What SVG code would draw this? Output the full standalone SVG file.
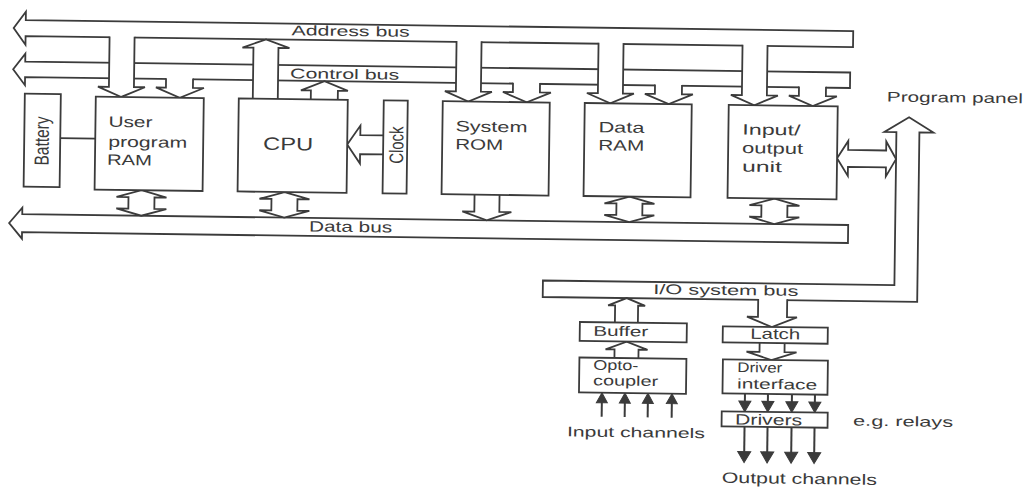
<svg xmlns="http://www.w3.org/2000/svg" xmlns:xlink="http://www.w3.org/1999/xlink" width="1035" height="489" viewBox="0 0 1035 489">
<style>
.ln{fill:none;stroke:#3b3b3b;stroke-width:1.8;stroke-linecap:square;stroke-linejoin:miter}
.bx{fill:#fff;stroke:#3b3b3b;stroke-width:1.8;stroke-linejoin:miter}
.wf{fill:#fff;stroke:none}
.tri{fill:#3b3b3b;stroke:#3b3b3b;stroke-width:1}
.stem{stroke:#3b3b3b;stroke-width:2}
.t{font-family:"Liberation Sans",Arial,Helvetica,sans-serif;fill:#3a3a3a;font-size:15px}
.s14{font-size:14px}
.s18{font-size:18px}
</style>
<defs>
<path id="dbl" d="M0,0 L25,7 L13,7 L13,18.5 L25,18.5 L0,25.5 L-25,18.5 L-13,18.5 L-13,7 L-25,7 Z"/>
<g id="upa"><line class="stem" x1="0" y1="9" x2="0" y2="24"/><path class="tri" d="M-5.5,10 L5.5,10 L0,0 Z"/></g>
<g id="dna"><line class="stem" x1="0" y1="0" x2="0" y2="8"/><path class="tri" d="M-6,7.5 L6,7.5 L0,18 Z"/></g>
<g id="outa"><line class="stem" x1="0" y1="0" x2="0" y2="26"/><path class="tri" d="M-6.5,25 L6.5,25 L0,36 Z"/></g>
</defs>
<rect width="1035" height="489" fill="#fff"/>
<g transform="rotate(0.75 430 160)">
<g id="address-bus">
<path class="bx" d="M12,33.5 L24,17 L24,25.5 L851.5,25.5 L851.5,41.5 L24,41.5 L24,50 Z"/>
<text class="t s14" x="290" y="37" textLength="118" lengthAdjust="spacingAndGlyphs">Address bus</text>
</g>
<g id="control-bus">
<path class="bx" d="M12,74.75 L24,59 L24,67 L849,67 L849,82.5 L24,82.5 L24,90.5 Z"/>
<text class="t s14" x="289" y="80" textLength="109" lengthAdjust="spacingAndGlyphs">Control bus</text>
</g>
<g id="data-bus">
<path class="bx" d="M10,228.5 L23,213 L23,219.5 L849,219.5 L849,237.5 L23,237.5 L23,244 Z"/>
<text class="t" x="310" y="233" textLength="83" lengthAdjust="spacingAndGlyphs">Data bus</text>
</g>
<g id="io-system-bus">
<path class="bx" d="M544.5,279 L896,279 L896,126 L884,126 L908.5,111 L933,126 L919,126 L919,295.5 L544.5,295.5 Z"/>
<text class="t s14" x="655" y="291" textLength="145" lengthAdjust="spacingAndGlyphs">I/O system bus</text>
</g>
<g id="connectors">
<path class="wf" d="M108,39 H133 V91 H144 L120.5,101 L97,91 H108 Z"/>
<path class="ln" d="M108,41.5 V91 H97 L120.5,101 L144,91 H133 V41.5"/>
<path class="wf" d="M165,80 H192 V91 H203 L179,101 L155,91 H165 Z"/>
<path class="ln" d="M165,82.5 V91 H155 L179,101 L203,91 H192 V82.5"/>
<use href="#dbl" xlink:href="#dbl" class="bx" x="142" y="194"/>
<line class="ln" x1="60" y1="143" x2="95" y2="143"/>
<path class="bx" d="M252,101 V50 H241 L264.5,41.5 L288,50 H277 V101"/>
<path class="bx" d="M310,101 V92 H300 L323.5,82.5 L347,92 H337 V101"/>
<path class="bx" d="M383,136 H360 V126.5 L347,145.5 L360,164.5 V155 H383"/>
<use href="#dbl" xlink:href="#dbl" class="bx" x="285" y="194"/>
<path class="wf" d="M455,39 H480 V91 H491 L467.5,101 L444,91 H455 Z"/>
<path class="ln" d="M455,41.5 V91 H444 L467.5,101 L491,91 H480 V41.5"/>
<path class="wf" d="M512,80 H539 V91 H550 L526,101 L502,91 H512 Z"/>
<path class="ln" d="M512,82.5 V91 H502 L526,101 L550,91 H539 V82.5"/>
<path class="bx" d="M475,194 V211 H463 L487.5,219.5 L512,211 H500 V194"/>
<path class="wf" d="M597,39 H622 V91 H633 L609.5,101 L586,91 H597 Z"/>
<path class="ln" d="M597,41.5 V91 H586 L609.5,101 L633,91 H622 V41.5"/>
<path class="wf" d="M654,80 H681 V91 H692 L668,101 L644,91 H654 Z"/>
<path class="ln" d="M654,82.5 V91 H644 L668,101 L692,91 H681 V82.5"/>
<use href="#dbl" xlink:href="#dbl" class="bx" x="630" y="194"/>
<path class="wf" d="M741,39 H766 V91 H777 L753.5,101 L730,91 H741 Z"/>
<path class="ln" d="M741,41.5 V91 H730 L753.5,101 L777,91 H766 V41.5"/>
<path class="wf" d="M798,80 H825 V91 H836 L812,101 L788,91 H798 Z"/>
<path class="ln" d="M798,82.5 V91 H788 L812,101 L836,91 H825 V82.5"/>
<use href="#dbl" xlink:href="#dbl" class="bx" x="775" y="194"/>
<path class="bx" d="M837,153 L848,135.5 L848,144.5 L886,144.5 L886,135.5 L896,153 L886,170.5 L886,161.5 L848,161.5 L848,170.5 Z"/>
<path class="bx" d="M617,320 V303 H610 L628.5,295.5 L647,303 H640 V320"/>
<path class="bx" d="M617,355.5 V347 H608 L629,339 L650,347 H641 V355.5"/>
<path class="wf" d="M760,293 H789 V312.5 H799 L774,322.5 L749,312.5 H760 Z"/>
<path class="ln" d="M760,295.5 V312.5 H749 L774,322.5 L799,312.5 H789 V295.5"/>
<path class="bx" d="M762,338.5 V347.5 H749 L774,355.5 L799,347.5 H787 V338.5"/>
<use href="#upa" xlink:href="#upa" x="605" y="390.5"/>
<use href="#upa" xlink:href="#upa" x="628" y="390.5"/>
<use href="#upa" xlink:href="#upa" x="651" y="390.5"/>
<use href="#upa" xlink:href="#upa" x="675" y="390.5"/>
<use href="#dna" xlink:href="#dna" x="748" y="389.5"/>
<use href="#dna" xlink:href="#dna" x="771" y="389.5"/>
<use href="#dna" xlink:href="#dna" x="795" y="389.5"/>
<use href="#dna" xlink:href="#dna" x="818" y="389.5"/>
<use href="#outa" xlink:href="#outa" x="748" y="422.5"/>
<use href="#outa" xlink:href="#outa" x="771" y="422.5"/>
<use href="#outa" xlink:href="#outa" x="795" y="422.5"/>
<use href="#outa" xlink:href="#outa" x="818" y="422.5"/>
</g>
<g id="battery">
<rect class="bx" x="24" y="99" width="36" height="93"/>
<text class="t s14" transform="translate(48.5 146) scale(1.45 1) rotate(-90)" text-anchor="middle" textLength="49" lengthAdjust="spacingAndGlyphs">Battery</text>
</g>
<g id="user-program-ram">
<rect class="bx" x="95" y="101" width="108" height="93"/>
<text class="t" x="108" y="131" textLength="44" lengthAdjust="spacingAndGlyphs">User</text>
<text class="t" x="108" y="151" textLength="79" lengthAdjust="spacingAndGlyphs">program</text>
<text class="t" x="107" y="169" textLength="45" lengthAdjust="spacingAndGlyphs">RAM</text>
</g>
<g id="cpu">
<rect class="bx" x="238" y="101" width="109" height="93"/>
<text class="t s18" x="263" y="152" textLength="50" lengthAdjust="spacingAndGlyphs">CPU</text>
</g>
<g id="clock">
<rect class="bx" x="383" y="101" width="24" height="93"/>
<text class="t s14" transform="translate(403 145.5) scale(1.4 1) rotate(-90)" text-anchor="middle" textLength="37" lengthAdjust="spacingAndGlyphs">Clock</text>
</g>
<g id="system-rom">
<rect class="bx" x="442" y="101" width="107" height="93"/>
<text class="t" x="455" y="131" textLength="72" lengthAdjust="spacingAndGlyphs">System</text>
<text class="t" x="455" y="149" textLength="48" lengthAdjust="spacingAndGlyphs">ROM</text>
</g>
<g id="data-ram">
<rect class="bx" x="584" y="101" width="107" height="93"/>
<text class="t" x="598" y="130" textLength="46" lengthAdjust="spacingAndGlyphs">Data</text>
<text class="t" x="598" y="148" textLength="46" lengthAdjust="spacingAndGlyphs">RAM</text>
</g>
<g id="io-unit">
<rect class="bx" x="728" y="101" width="109" height="93"/>
<text class="t" x="742" y="130.5" textLength="58" lengthAdjust="spacingAndGlyphs">Input/</text>
<text class="t" x="742" y="149" textLength="61" lengthAdjust="spacingAndGlyphs">output</text>
<text class="t" x="742" y="167.5" textLength="40" lengthAdjust="spacingAndGlyphs">unit</text>
</g>
<g id="program-panel">
<text class="t s14" x="886" y="95.5" textLength="136" lengthAdjust="spacingAndGlyphs">Program panel</text>
</g>
<g id="buffer">
<rect class="bx" x="582" y="320" width="107" height="19"/>
<text class="t s14" x="595.5" y="333.5" textLength="55" lengthAdjust="spacingAndGlyphs">Buffer</text>
</g>
<g id="opto-coupler">
<rect class="bx" x="582" y="355.5" width="107" height="35"/>
<text class="t s14" x="596" y="367.5" textLength="45" lengthAdjust="spacingAndGlyphs">Opto-</text>
<text class="t s14" x="596" y="383" textLength="65" lengthAdjust="spacingAndGlyphs">coupler</text>
</g>
<g id="input-channels">
<text class="t s14" x="570.5" y="434.5" textLength="138" lengthAdjust="spacingAndGlyphs">Input channels</text>
</g>
<g id="latch">
<rect class="bx" x="725" y="322.5" width="105" height="16"/>
<text class="t" x="752.5" y="334.5" textLength="50" lengthAdjust="spacingAndGlyphs">Latch</text>
</g>
<g id="driver-interface">
<rect class="bx" x="725.5" y="355.5" width="105" height="34"/>
<text class="t s14" x="740" y="368" textLength="45" lengthAdjust="spacingAndGlyphs">Driver</text>
<text class="t s14" x="740" y="384.5" textLength="80" lengthAdjust="spacingAndGlyphs">interface</text>
</g>
<g id="drivers">
<rect class="bx" x="725" y="407.5" width="106" height="15"/>
<text class="t" x="738.5" y="420.5" textLength="67" lengthAdjust="spacingAndGlyphs">Drivers</text>
</g>
<g id="relays-note">
<text class="t s14" x="856.5" y="420" textLength="100" lengthAdjust="spacingAndGlyphs">e.g. relays</text>
</g>
<g id="output-channels">
<text class="t" x="726" y="479" textLength="155" lengthAdjust="spacingAndGlyphs">Output channels</text>
</g>
</g>
</svg>
